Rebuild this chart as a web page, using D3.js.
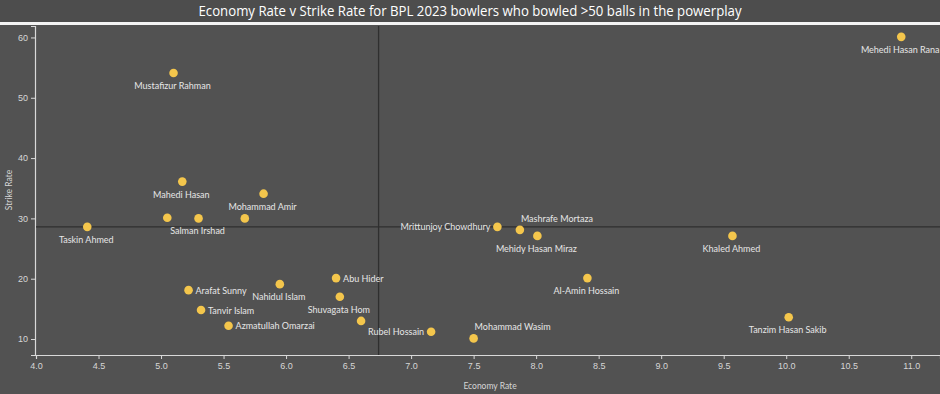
<!DOCTYPE html>
<html>
<head>
<meta charset="utf-8">
<script src="https://cdn.jsdelivr.net/npm/d3@7"></script>
<style>
  body { margin: 0; background: #525252; }
  svg { display: block; font-family: Lato, "Open Sans", sans-serif; }
</style>
</head>
<body>
<div id="chart"></div>
<script>
// bowlers (null = point drawn without a label)
var bowlers = ["Mustafizur Rahman", "Mahedi Hasan", "Mohammad Amir", null, "Salman Irshad", null,
  "Taskin Ahmed", "Arafat Sunny", "Tanvir Islam", "Azmatullah Omarzai", "Nahidul Islam", "Abu Hider",
  "Shuvagata Hom", null, "Rubel Hossain", "Mohammad Wasim", "Mrittunjoy Chowdhury", "Mashrafe Mortaza",
  "Mehidy Hasan Miraz", "Al-Amin Hossain", "Khaled Ahmed", "Tanzim Hasan Sakib", "Mehedi Hasan Rana"];
var economy = [5.10, 5.17, 5.82, 5.05, 5.30, 5.67, 4.41, 5.22, 5.32, 5.54, 5.95, 6.40,
  6.43, 6.60, 7.16, 7.50, 7.69, 7.87, 8.01, 8.41, 9.57, 10.02, 10.92];
var strikeRate = [54.1, 36.1, 34.1, 30.1, 30.0, 30.0, 28.6, 18.1, 14.8, 12.2, 19.1, 20.1,
  17.0, 13.0, 11.2, 10.1, 28.6, 28.1, 27.1, 20.1, 27.1, 13.6, 60.1];
var xTicks = [4.0, 4.5, 5.0, 5.5, 6.0, 6.5, 7.0, 7.5, 8.0, 8.5, 9.0, 9.5, 10.0, 10.5, 11.0];
var yTicks = [10, 20, 30, 40, 50, 60];
var refEconomy = 6.74, refStrike = 28.6;

// where the label sits relative to its dot
var labelSide = {
  "Arafat Sunny": "right", "Tanvir Islam": "right", "Azmatullah Omarzai": "right",
  "Abu Hider": "right", "Rubel Hossain": "left", "Mrittunjoy Chowdhury": "left",
  "Mashrafe Mortaza": "above", "Mohammad Wasim": "above"
};

var W = 940, H = 394;
var svg = d3.select("#chart").append("svg")
  .attr("width", W)
  .attr("height", H);

svg.append("rect").attr("width", W).attr("height", H).attr("fill", "#525252");

// title bar
svg.append("rect").attr("width", W).attr("height", 22).attr("fill", "#4d4d4d");
svg.append("rect").attr("y", 22).attr("width", W).attr("height", 3).attr("fill", "#f4f4f4");
svg.append("text")
  .attr("x", W / 2).attr("y", 16)
  .attr("text-anchor", "middle")
  .attr("fill", "#ffffff")
  .attr("textLength", 543)
  .attr("lengthAdjust", "spacingAndGlyphs")
  .style("font-family", "'Open Sans', sans-serif")
  .style("font-size", "15px")
  .text("Economy Rate v Strike Rate for BPL 2023 bowlers who bowled >50 balls in the powerplay");

var x = d3.scaleLinear().domain([4.0, 11.23]).range([36, 940]);
var y = d3.scaleLinear().domain([7.35, 61.9]).range([355, 26]);

// axes
var xAxis = svg.append("g")
  .attr("transform", "translate(0," + 355 + ")")
  .call(d3.axisBottom(x).tickValues(xTicks).tickFormat(d3.format(".1f")).tickSize(4).tickPadding(4));
var yAxis = svg.append("g")
  .attr("transform", "translate(" + 35 + ",0)")
  .call(d3.axisLeft(y).tickValues(yTicks).tickSize(4).tickPadding(3));

[xAxis, yAxis].forEach(function (g) {
  g.select(".domain").attr("stroke", "#d9d9d9").attr("stroke-width", 1.2);
  g.selectAll(".tick line").attr("stroke", "#d9d9d9");
  g.selectAll(".tick text").attr("fill", "#d6d6d6").style("font-size", "9px");
});

svg.append("text")
  .attr("x", 490).attr("y", 389)
  .attr("text-anchor", "middle")
  .attr("fill", "#d6d6d6")
  .style("font-size", "8.5px")
  .text("Economy Rate");
svg.append("text")
  .attr("transform", "translate(12,190) rotate(-90)")
  .attr("text-anchor", "middle")
  .attr("fill", "#d6d6d6")
  .style("font-size", "8.5px")
  .text("Strike Rate");

// reference lines
svg.append("line")
  .attr("x1", x(refEconomy)).attr("x2", x(refEconomy))
  .attr("y1", 26).attr("y2", 355)
  .attr("stroke", "#2f2f2f").attr("stroke-width", 1.3);
svg.append("line")
  .attr("x1", 36).attr("x2", W)
  .attr("y1", y(refStrike)).attr("y2", y(refStrike))
  .attr("stroke", "#2f2f2f").attr("stroke-width", 1.3);

var data = bowlers.map(function (n, i) {
  return { name: n, econ: economy[i], sr: strikeRate[i] };
});

svg.append("g").selectAll("circle")
  .data(data)
  .join("circle")
    .attr("cx", function (d) { return x(d.econ); })
    .attr("cy", function (d) { return y(d.sr); })
    .attr("r", 4.3)
    .attr("fill", "#f4c64c");

svg.append("g").selectAll("text")
  .data(data.filter(function (d) { return d.name; }))
  .join("text")
    .attr("fill", "#e6e6e6")
    .style("font-size", "9px")
    .attr("x", function (d) {
      var s = labelSide[d.name];
      if (s == "right") return x(d.econ) + 7;
      if (s == "left") return x(d.econ) - 7;
      if (s == "above") return x(d.econ) + 1;
      return x(d.econ) - 1;
    })
    .attr("y", function (d) {
      var s = labelSide[d.name];
      if (s == "right" || s == "left") return y(d.sr) + 3.5;
      if (s == "above") return y(d.sr) - 8;
      return y(d.sr) + 16;
    })
    .attr("text-anchor", function (d) {
      var s = labelSide[d.name];
      if (s == "right") return "start";
      if (s == "left") return "end";
      if (s == "above") return "start";
      return "middle";
    })
    .text(function (d) { return d.name; });
</script>
</body>
</html>
